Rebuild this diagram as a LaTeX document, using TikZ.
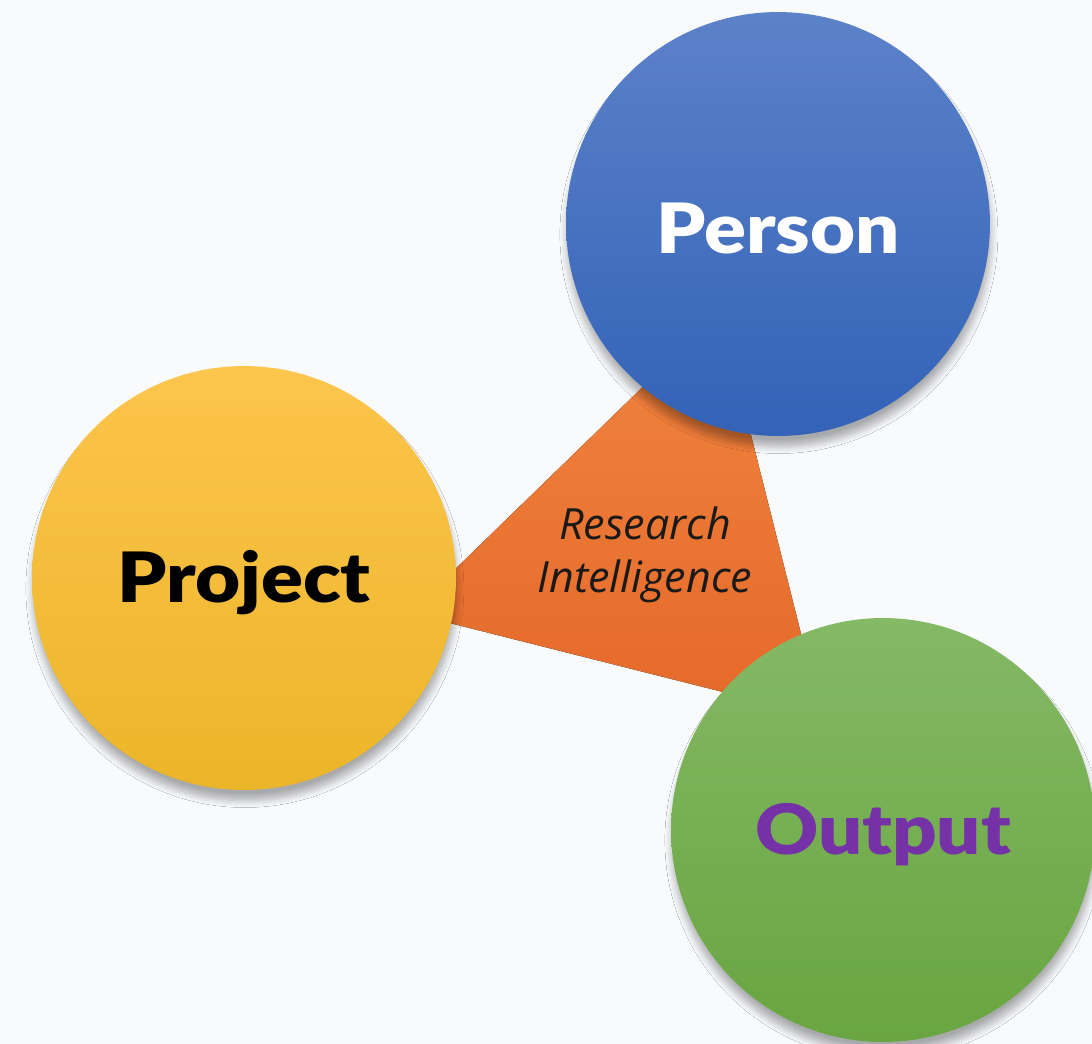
\documentclass[tikz,border=0pt]{standalone}
\usepackage{fontspec}
\setmainfont{Open Sans}
\newfontfamily\heavy{Lato Black}
\usetikzlibrary{shadows.blur}
\definecolor{bg}{HTML}{F9FAFC}
\definecolor{bluetop}{HTML}{5C82C9}
\definecolor{bluebot}{HTML}{3362B7}
\definecolor{yeltop}{HTML}{FCC54C}
\definecolor{yelbot}{HTML}{EBB52A}
\definecolor{grntop}{HTML}{84B966}
\definecolor{grnbot}{HTML}{69A540}
\definecolor{orntop}{HTML}{F2843F}
\definecolor{ornbot}{HTML}{E4692A}
\definecolor{purp}{HTML}{7531A6}
\definecolor{ink}{HTML}{1A1A1A}
\newcommand{\widetext}[1]{\raisebox{-2.5pt}[\height][\depth]{\scalebox{1.12}[1]{#1}}}
\tikzset{
  bubble/.style={circle, inner sep=0pt, minimum size=8.48cm,
    blur shadow={shadow xshift=0.5pt, shadow yshift=-6pt, shadow blur steps=8, shadow opacity=32, shadow blur radius=4pt},
    font=\heavy\fontsize{39.5}{44}\selectfont},
  core/.style={top color=orntop, bottom color=ornbot},
  corelabel/.style={align=center, text=ink, font=\itshape\fontsize{24.5}{30}\selectfont}
}
\begin{document}
\begin{tikzpicture}[x=0.02cm,y=-0.02cm]
\fill[bg] (0,0) rectangle (1092,1044);
\useasboundingbox (0,0) rectangle (1092,1044);
\coordinate (t1) at (720,312);
\coordinate (t2) at (410,613);
\coordinate (t3) at (822,717);
\fill[core] (t1) -- (t2) -- (t3) -- cycle;
\node[corelabel] (ri) at (645,555) {Research\\Intelligence};
\node[bubble, top color=bluetop, bottom color=bluebot, text=white] (person) at (778,224) {\widetext{Person}};
\node[bubble, top color=yeltop, bottom color=yelbot, text=black] (project) at (244,578) {\widetext{Project}};
\node[bubble, top color=grntop, bottom color=grnbot, text=purp] (output) at (883,830) {\widetext{Output}};
\end{tikzpicture}
\end{document}
